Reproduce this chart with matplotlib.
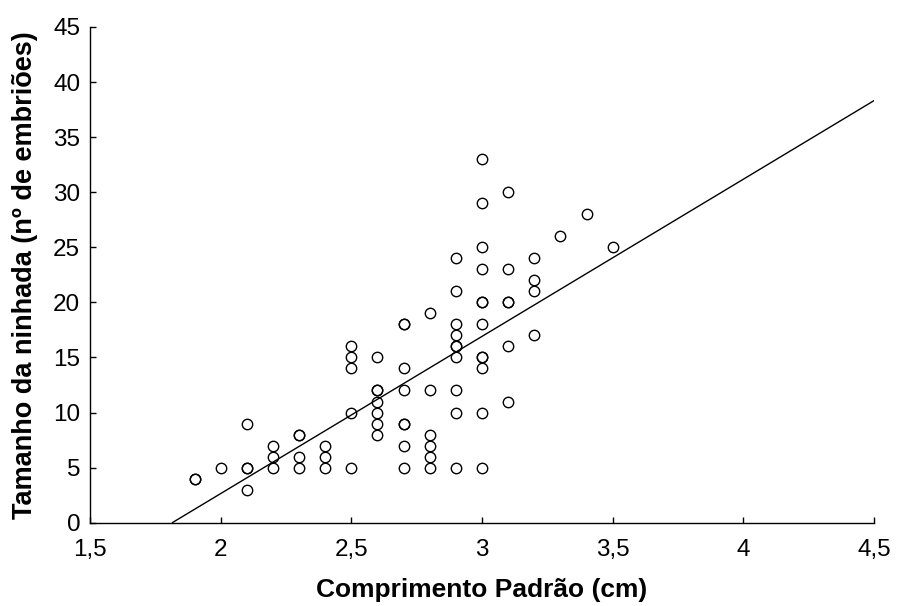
import matplotlib
matplotlib.use('Agg')
import matplotlib.pyplot as plt
from matplotlib.ticker import FuncFormatter
import numpy as np

# comprimento padrao (cm) and tamanho da ninhada, read column by column
comprimento = [1.9, 1.9,
               2.0,
               2.1, 2.1, 2.1, 2.1,
               2.2, 2.2, 2.2,
               2.3, 2.3, 2.3, 2.3,
               2.4, 2.4, 2.4,
               2.5, 2.5, 2.5, 2.5, 2.5,
               2.6, 2.6, 2.6, 2.6, 2.6, 2.6, 2.6,
               2.7, 2.7, 2.7, 2.7, 2.7, 2.7, 2.7, 2.7,
               2.8, 2.8, 2.8, 2.8, 2.8, 2.8,
               2.9, 2.9, 2.9, 2.9, 2.9, 2.9, 2.9, 2.9, 2.9, 2.9,
               3.0, 3.0, 3.0, 3.0, 3.0, 3.0, 3.0, 3.0, 3.0, 3.0, 3.0, 3.0,
               3.1, 3.1, 3.1, 3.1, 3.1, 3.1,
               3.2, 3.2, 3.2, 3.2,
               3.3, 3.4, 3.5]
ninhada = [4, 4,
           5,
           9, 5, 5, 3,
           7, 6, 5,
           8, 8, 6, 5,
           7, 6, 5,
           16, 15, 14, 10, 5,
           15, 12, 12, 11, 10, 9, 8,
           18, 18, 14, 12, 9, 9, 7, 5,
           19, 12, 8, 7, 6, 5,
           24, 21, 18, 17, 16, 16, 15, 12, 10, 5,
           33, 29, 25, 23, 20, 20, 18, 15, 15, 14, 10, 5,
           30, 23, 20, 20, 16, 11,
           24, 22, 21, 17,
           26, 28, 25]

# regression line
reg_x = [1.816, 4.5]
reg_intercept = -25.9
reg_slope = 14.27

plt.rcParams['font.family'] = ['Liberation Sans', 'DejaVu Sans']

fig = plt.figure(figsize=(8.97, 6.06), dpi=100)
ax = fig.add_axes([0.1003, 0.1375, 0.8741, 0.818])

ax.plot(comprimento, ninhada, linestyle='none', marker='o', markersize=7.5,
        markerfacecolor='none', markeredgecolor='black', markeredgewidth=1.0)

xs = np.array(reg_x)
ax.plot(xs, reg_intercept + reg_slope * xs, color='black', linewidth=1.0)

ax.set_xlim(1.5, 4.5)
ax.set_ylim(0, 45)
ax.set_xticks([1.5, 2, 2.5, 3, 3.5, 4, 4.5])
ax.set_yticks(range(0, 46, 5))

comma = FuncFormatter(lambda v, p: ('%g' % v).replace('.', ','))
ax.xaxis.set_major_formatter(comma)
ax.yaxis.set_major_formatter(comma)

ax.spines['top'].set_visible(False)
ax.spines['right'].set_visible(False)
for s in ['left', 'bottom']:
    ax.spines[s].set_linewidth(1.0)
ax.tick_params(direction='in', length=4, width=1.0, labelsize=17.5)
ax.tick_params(axis='x', pad=11.5)
ax.tick_params(axis='y', pad=7)

ax.set_xlabel('Comprimento Padrão (cm)', fontsize=19, fontweight='bold', va='center')
ax.set_ylabel('Tamanho da ninhada (nº de embriões)', fontsize=19.5, fontweight='bold', va='center')
ax.xaxis.set_label_coords(0.5, -0.136)
ax.yaxis.set_label_coords(-0.0828, 0.5)

fig.savefig('out.png', dpi=100)
